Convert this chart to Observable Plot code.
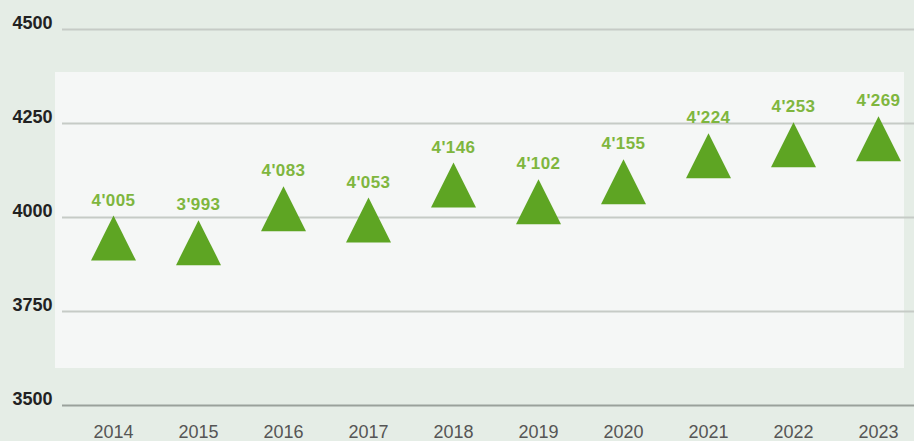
<!DOCTYPE html>
<html>
<head>
<meta charset="utf-8">
<script src="https://cdn.jsdelivr.net/npm/d3@7"></script>
<script src="https://cdn.jsdelivr.net/npm/@observablehq/plot@0.6"></script>
<style>
  html, body { margin: 0; padding: 0; background: #e5ede6; }
  #chart {
    width: 914px; height: 441px;
    background:
      linear-gradient(#f5f7f6, #f5f7f6) 55px 72px / 849px 296px no-repeat,
      #e5ede6;
  }
  #chart svg { display: block; }
</style>
</head>
<body>
<div id="chart"></div>
<script>
const years = ["2014","2015","2016","2017","2018","2019","2020","2021","2022","2023"];
const values = [4005, 3993, 4083, 4053, 4146, 4102, 4155, 4224, 4253, 4269];
const yTicks = [3500, 3750, 4000, 4250, 4500];

const data = years.map((year, i) => ({year, value: values[i]}));
const fmt = d3.formatLocale({thousands: "'", grouping: [3], decimal: "."}).format(",");

const triangle = {
  draw(context) {
    context.moveTo(0, 0);
    context.lineTo(22.5, 45);
    context.lineTo(-22.5, 45);
    context.closePath();
  }
};

const chart = Plot.plot({
  width: 914,
  height: 441,
  marginLeft: 62,
  marginRight: 0,
  marginTop: 29,
  marginBottom: 36,
  style: {background: "transparent", fontFamily: "'Liberation Sans', Arial, sans-serif", overflow: "visible"},
  x: {type: "point", domain: years, range: [111, 880], padding: 0, label: null},
  y: {domain: [3500, 4500], label: null},
  marks: [
    Plot.ruleY(yTicks.filter(d => d !== 3500), {stroke: "#c6cbc6", strokeWidth: 2}),
    Plot.ruleY([3500], {stroke: "#9aa19b", strokeWidth: 2}),
    Plot.axisY(yTicks, {
      tickSize: 0, tickPadding: 10, dy: -6, tickFormat: "d",
      fontSize: 18, fontWeight: "bold", fill: "#222",
      label: null
    }),
    Plot.axisX(years, {
      tickSize: 0, tickPadding: 20,
      fontSize: 18, fill: "#555",
      label: null
    }),
    Plot.dot(data, {x: "year", y: "value", symbol: triangle, r: 10, fill: "#5ea523", stroke: "none"}),
    Plot.text(data, {
      x: "year", y: "value", text: d => fmt(d.value),
      dy: -10, lineAnchor: "bottom",
      fontSize: 17, fontWeight: "bold", fill: "#7fb63e"
    })
  ]
});
chart.querySelectorAll("text").forEach(t => {
  if (t.closest("g[aria-label='text']")) t.setAttribute("letter-spacing", "0.4");
});
document.getElementById("chart").appendChild(chart);
</script>
</body>
</html>
